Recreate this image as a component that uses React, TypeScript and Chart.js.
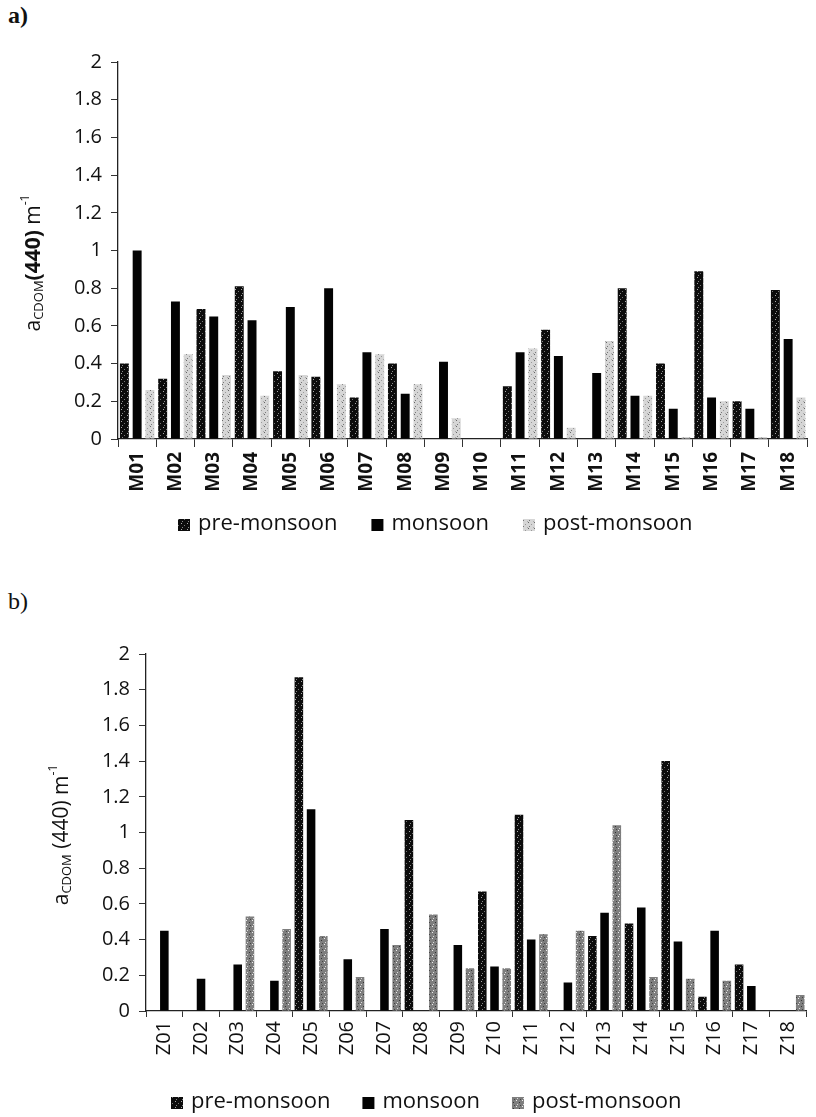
import React, { useEffect, useRef } from "react";
import { Chart, registerables } from "chart.js";
Chart.register(...registerables);

const FONT = "'Open Sans', sans-serif";

const stationsA = ["M01","M02","M03","M04","M05","M06","M07","M08","M09","M10","M11","M12","M13","M14","M15","M16","M17","M18"];
const preMonsoonA = [0.40,0.32,0.69,0.81,0.36,0.33,0.22,0.40,0,0,0.28,0.58,0,0.80,0.40,0.89,0.20,0.79];
const monsoonA = [1.00,0.73,0.65,0.63,0.70,0.80,0.46,0.24,0.41,0,0.46,0.44,0.35,0.23,0.16,0.22,0.16,0.53];
const postMonsoonA = [0.26,0.45,0.34,0.23,0.34,0.29,0.45,0.29,0.11,0,0.48,0.06,0.52,0.23,0.01,0.20,0.01,0.22];

const stationsB = ["Z01","Z02","Z03","Z04","Z05","Z06","Z07","Z08","Z09","Z10","Z11","Z12","Z13","Z14","Z15","Z16","Z17","Z18"];
const preMonsoonB = [0,0,0,0,1.87,0,0,1.07,0,0.67,1.10,0,0.42,0.49,1.40,0.08,0.26,0];
const monsoonB = [0.45,0.18,0.26,0.17,1.13,0.29,0.46,0,0.37,0.25,0.40,0.16,0.55,0.58,0.39,0.45,0.14,0];
const postMonsoonB = [0,0,0.53,0.46,0.42,0.19,0.37,0.54,0.24,0.24,0.43,0.45,1.04,0.19,0.18,0.17,0,0.09];

const seriesNames = ["pre-monsoon", "monsoon", "post-monsoon"];
const yMin = 0;
const yMax = 2;
const yStep = 0.2;

function makePattern(base: string, dots: [number, number, string][], size: number) {
  const c = document.createElement("canvas");
  c.width = size;
  c.height = size;
  const g = c.getContext("2d")!;
  g.fillStyle = base;
  g.fillRect(0, 0, size, size);
  for (const [x, y, col] of dots) {
    g.fillStyle = col;
    g.fillRect(x, y, 1, 1);
  }
  return g.createPattern(c, "repeat")!;
}

type Cfg = {
  labels: string[];
  series: number[][];
  fills: any[];
  plotTop: number;
  xHeight: number;
  yWidth: number;
  padRight: number;
  tickFont: number;
  xFontWeight: string;
  xTickLen: number;
  xPad: number;
  titleBold440: boolean;
  titleSpace: boolean;
  titleX: number;
  titleY: number;
  legendX: number;
  legendY: number;
  legendGap: number;
  barPct: number;
};

function drawTitle(ctx: CanvasRenderingContext2D, cfg: Cfg) {
  const segs = [
    { t: "a", f: `21px ${FONT}`, dy: 0 },
    { t: "CDOM", f: `13px ${FONT}`, dy: 5 },
    { t: cfg.titleSpace ? " (440)" : "(440)", f: cfg.titleBold440 ? `bold 21px ${FONT}` : `21px ${FONT}`, dy: 0 },
    { t: " m", f: `21px ${FONT}`, dy: 0 },
    { t: "-1", f: `12px ${FONT}`, dy: -8 },
  ];
  ctx.save();
  let total = 0;
  const widths = segs.map((s) => {
    ctx.font = s.f;
    const w = ctx.measureText(s.t).width;
    total += w;
    return w;
  });
  ctx.translate(cfg.titleX, cfg.titleY);
  ctx.rotate(-Math.PI / 2);
  ctx.fillStyle = "#111";
  ctx.textBaseline = "middle";
  ctx.textAlign = "left";
  let x = -total / 2;
  segs.forEach((s, i) => {
    ctx.font = s.f;
    ctx.fillText(s.t, x, s.dy);
    x += widths[i];
  });
  ctx.restore();
}

function drawLegend(ctx: CanvasRenderingContext2D, chart: any, cfg: Cfg) {
  ctx.save();
  ctx.font = `22px ${FONT}`;
  ctx.textBaseline = "middle";
  ctx.textAlign = "left";
  let x = cfg.legendX;
  const box = 12;
  chart.data.datasets.forEach((ds: any) => {
    ctx.fillStyle = ds.backgroundColor;
    ctx.fillRect(x, cfg.legendY - box / 2 + 1, box, box);
    ctx.fillStyle = "#111";
    const tx = x + box + 8;
    ctx.fillText(ds.label, tx, cfg.legendY);
    x = tx + ctx.measureText(ds.label).width + cfg.legendGap;
  });
  ctx.restore();
}

function buildChart(canvas: HTMLCanvasElement, cfg: Cfg) {
  const datasets = cfg.series.map((d, i) => ({
    label: seriesNames[i],
    data: d,
    backgroundColor: cfg.fills[i],
    borderWidth: 0,
    barPercentage: cfg.barPct,
    categoryPercentage: 1,
  }));
  return new Chart(canvas, {
    type: "bar",
    data: { labels: cfg.labels, datasets },
    options: {
      responsive: false,
      animation: false,
      devicePixelRatio: 1,
      layout: { padding: { top: cfg.plotTop, right: cfg.padRight, left: 0, bottom: 0 } },
      plugins: { legend: { display: false }, tooltip: { enabled: false } },
      scales: {
        x: {
          grid: { display: true, drawOnChartArea: false, offset: true, tickLength: cfg.xTickLen, color: "#333" },
          border: { color: "#222", width: 1.3 },
          ticks: {
            autoSkip: false,
            minRotation: 90,
            maxRotation: 90,
            padding: cfg.xPad,
            color: "#111",
            font: { family: FONT, size: cfg.tickFont, weight: cfg.xFontWeight as any },
          },
          afterFit: (s: any) => {
            s.height = cfg.xHeight;
          },
        },
        y: {
          min: yMin,
          max: yMax,
          grid: { display: true, drawOnChartArea: false, tickLength: 7, color: "#333" },
          border: { color: "#222", width: 1.3 },
          ticks: {
            stepSize: yStep,
            padding: 9,
            color: "#111",
            font: { family: FONT, size: 20 },
            callback: (v: any) => String(Number(Number(v).toFixed(1))),
          },
          afterFit: (s: any) => {
            s.width = cfg.yWidth;
          },
        },
      },
    },
    plugins: [
      {
        id: "extras",
        afterDraw: (chart: any) => {
          drawTitle(chart.ctx, cfg);
          drawLegend(chart.ctx, chart, cfg);
        },
      },
    ],
  });
}

export default function App() {
  const refA = useRef<HTMLCanvasElement>(null);
  const refB = useRef<HTMLCanvasElement>(null);

  useEffect(() => {
    const preFill = makePattern("#0c0c0c", [[1, 1, "#aaa"], [4, 3, "#777"], [2, 5, "#888"]], 6);
    const monFill = "#030303";
    const postFillA = makePattern("#d6d6d6", [[0, 0, "#666"], [3, 2, "#999"], [1, 4, "#777"], [5, 5, "#aaa"]], 6);
    const postFillB = makePattern("#7e7e7e", [[0, 0, "#eee"], [3, 2, "#333"], [1, 4, "#ddd"], [4, 5, "#444"]], 6);

    const a = buildChart(refA.current!, {
      labels: stationsA,
      series: [preMonsoonA, monsoonA, postMonsoonA],
      fills: [preFill, monFill, postFillA],
      plotTop: 62,
      xHeight: 121,
      yWidth: 118,
      padRight: 2,
      tickFont: 19,
      xFontWeight: "bold",
      xTickLen: 8,
      xPad: 5,
      titleBold440: true,
      titleSpace: false,
      titleX: 34,
      titleY: 263,
      legendX: 178,
      legendY: 524,
      legendGap: 34,
      barPct: 0.7,
    });
    const b = buildChart(refB.current!, {
      labels: stationsB,
      series: [preMonsoonB, monsoonB, postMonsoonB],
      fills: [preFill, monFill, postFillB],
      plotTop: 64,
      xHeight: 106,
      yWidth: 146,
      padRight: 0,
      tickFont: 20,
      xFontWeight: "normal",
      xTickLen: 6,
      xPad: 4,
      titleBold440: false,
      titleSpace: true,
      titleX: 62,
      titleY: 245,
      legendX: 171,
      legendY: 512,
      legendGap: 32,
      barPct: 0.7,
    });
    return () => {
      a.destroy();
      b.destroy();
    };
  }, []);

  return (
    <div style={{ position: "absolute", left: 0, top: 0, width: 816, height: 1117, overflow: "hidden", background: "#fff" }}>
      <div style={{ position: "absolute", left: 8, top: 2, font: "bold 24px 'Liberation Serif', serif", color: "#111" }}>a)</div>
      <div style={{ position: "absolute", left: 8, top: 588, font: "24px 'Liberation Serif', serif", color: "#111" }}>b)</div>
      <canvas ref={refA} width={816} height={560} style={{ position: "absolute", left: 0, top: 0, width: 816, height: 560 }} />
      <canvas ref={refB} width={816} height={527} style={{ position: "absolute", left: 0, top: 590, width: 816, height: 527 }} />
    </div>
  );
}
